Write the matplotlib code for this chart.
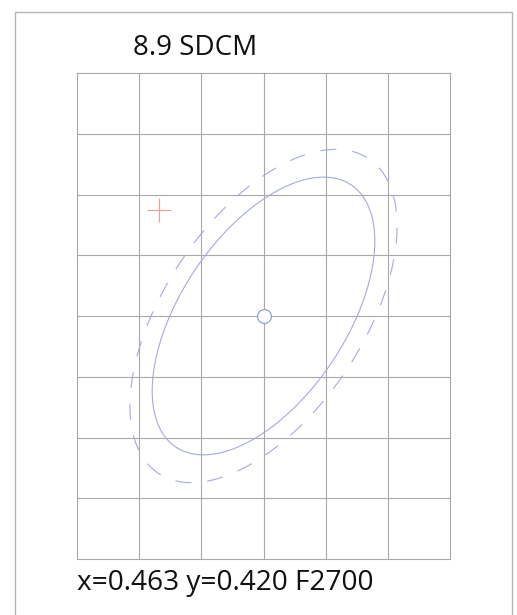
import numpy as np
import matplotlib.pyplot as plt
from matplotlib.patches import Rectangle

# F2700 reference point and MacAdam metric coefficients
center_x = 0.463
center_y = 0.420
g11, g12, g22 = 440000.0, -186000.0, 270000.0
steps = [5, 6]
step_styles = ['solid', 'dashed']

# measured point
meas_x = 0.4546
meas_y = 0.4287
sdcm = 8.9

x_grid = np.arange(0.448, 0.4781, 0.005)
y_grid = np.arange(0.400, 0.4401, 0.005)

line_col = '#a4aade'


def ellipse_points(n, num=400):
    g = np.array([[g11, g12], [g12, g22]])
    vals, vecs = np.linalg.eigh(g)
    t = np.linspace(0, 2 * np.pi, num)
    circ = np.vstack([np.cos(t) * n / np.sqrt(vals[0]), np.sin(t) * n / np.sqrt(vals[1])])
    pts = vecs @ circ
    return center_x + pts[0], center_y + pts[1]


plt.rcParams['font.family'] = ['Open Sans', 'DejaVu Sans']
plt.rcParams['lines.scale_dashes'] = False

fig = plt.figure(figsize=(5.17, 6.15), dpi=100)
ax = fig.add_axes([77 / 517, 1 - 559 / 615, 373 / 517, 486 / 615])

for xv in x_grid:
    ax.axvline(xv, color='#a8a8a8', lw=0.8, zorder=1, clip_on=False)
for yv in y_grid:
    ax.axhline(yv, color='#a8a8a8', lw=0.8, zorder=1, clip_on=False)

for n, ls in zip(steps, step_styles):
    ex, ey = ellipse_points(n)
    if ls == 'dashed':
        ax.plot(ex, ey, color=line_col, lw=0.8, dashes=(11.5, 11.5), zorder=2)
    else:
        ax.plot(ex, ey, color=line_col, lw=0.8, zorder=2)

ax.plot([center_x], [center_y], 'o', ms=10, mfc='white', mec='#8c94d8', mew=0.8, zorder=3)
ax.plot([meas_x], [meas_y], '+', ms=17, color='#f29a9a', mew=0.8, zorder=3)

ax.set_xlim(x_grid[0], x_grid[-1])
ax.set_ylim(y_grid[0], y_grid[-1])
ax.set_xticks([])
ax.set_yticks([])
for s in ax.spines.values():
    s.set_visible(False)

frame = Rectangle((15 / 517, -0.05), (512 - 15) / 517, 1.05 - 12 / 615,
                  transform=fig.transFigure, fill=False, edgecolor='#b4b4b4', lw=1.0, clip_on=False)
fig.patches.append(frame)

fig.text(133 / 517, 1 - 55 / 615, f'{sdcm} SDCM', fontsize=20, va='baseline', ha='left', color='#111111')
fig.text(77 / 517, 1 - 590 / 615, f'x={center_x:.3f} y={center_y:.3f} F2700', fontsize=20.2,
         va='baseline', ha='left', color='#111111')

fig.savefig('out.png', dpi=100)
